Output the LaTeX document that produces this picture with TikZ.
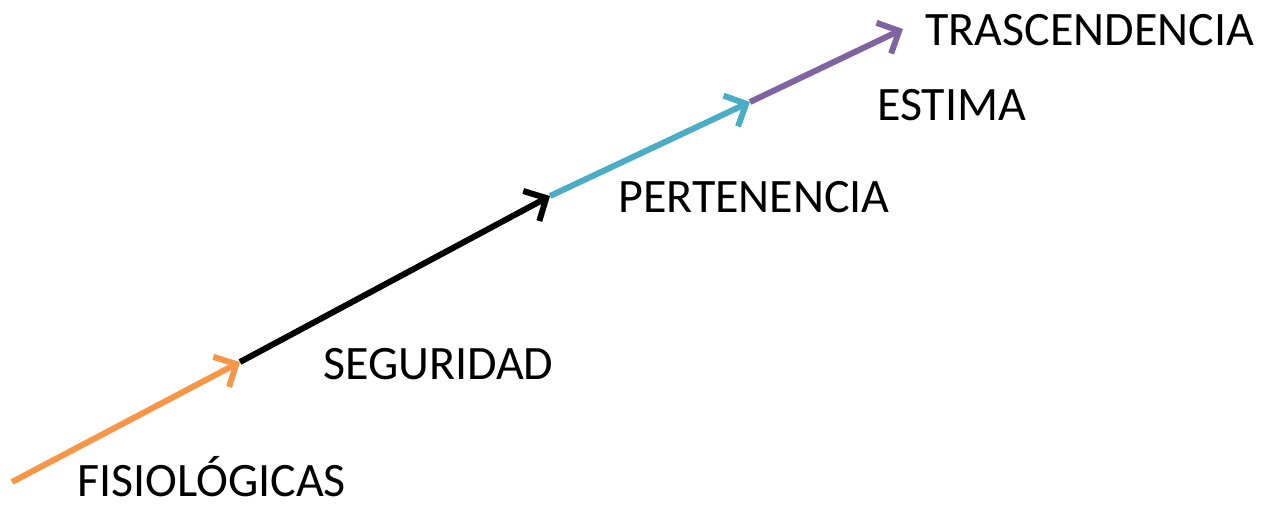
\documentclass[tikz,border=0pt]{standalone}
\usepackage{fontspec}
\setmainfont{Carlito}
\usetikzlibrary{arrows.meta}
\definecolor{fisioorange}{RGB}{247,150,70}
\definecolor{pertblue}{RGB}{75,172,198}
\definecolor{estimapurple}{RGB}{128,100,162}
\tikzset{x=1pt, y=-1pt,
    levelarrow/.style={ % Sets the properties for each step of the arrow
    line width=6pt,
    -{Straight Barb[length=17pt, width=34pt, line width=6pt]}},
    levellabel/.style={anchor=base west, inner sep=0pt,
    font=\fontsize{48}{56}\selectfont}}

\begin{document}
\begin{tikzpicture}
        \useasboundingbox (0,0) rectangle (1270,504);

        % Points where the colours change
        \coordinate (p0) at (12, 482);
        \coordinate (p1) at (240, 362);
        \coordinate (p2) at (550, 196);
        \coordinate (p3) at (750, 102);
        \coordinate (p4) at (903, 29);

        % Steps of the arrow
        \draw[levelarrow, fisioorange] (p0) -- (p1);
        \draw[levelarrow, black] (p1) -- (p2);
        \draw[levelarrow, pertblue] (p2) -- (p3);
        \draw[levelarrow, estimapurple] (p3) -- (p4);

        % Level labels
        \node[levellabel] (fisio) at (77, 496) {FISIOLÓGICAS};
        \node[levellabel] (segur) at (323, 379) {SEGURIDAD};
        \node[levellabel] (perten) at (618, 212) {PERTENENCIA};
        \node[levellabel] (estima) at (877, 120) {ESTIMA};
        \node[levellabel] (trasc) at (925, 45) {TRASCENDENCIA};

    \end{tikzpicture}
\end{document}
